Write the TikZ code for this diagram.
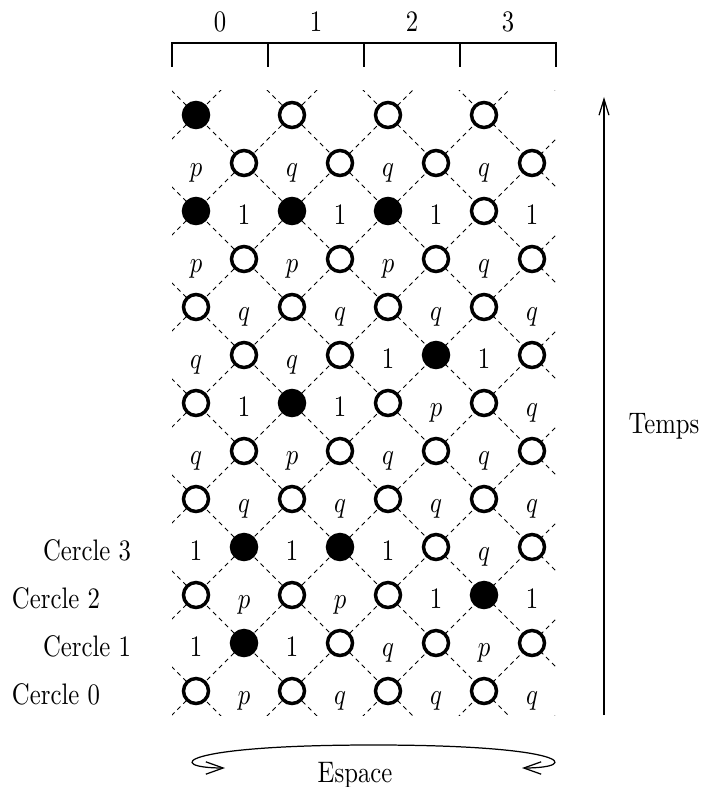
\documentclass[tikz,border=0pt]{standalone}
\usepackage{graphicx}
\usetikzlibrary{arrows.meta}
\newcommand{\tx}[1]{\scalebox{1}[1.2]{#1}}
\begin{document}
\begin{tikzpicture}[x=0.4042pt, y=-0.4042pt,
  opencirc/.style={circle, draw, fill=white, line width=1.4pt, minimum size=10.1pt, inner sep=0pt},
  fullcirc/.style={opencirc, fill=black},
  lab/.style={inner sep=0pt, anchor=base, yshift=-5.46pt},
  txt/.style={inner sep=0pt, anchor=base},
  lattice/.style={line width=0.4pt, dash pattern=on 1.8pt off 1.6pt},
  axis/.style={line width=0.5pt},
  tk O/.style={opencirc, node contents={}},
  tk F/.style={fullcirc, node contents={}},
  tk p/.style={lab, node contents={\tx{$p$}}},
  tk q/.style={lab, node contents={\tx{$q$}}},
  tk 1/.style={lab, node contents={\tx{1}}},
  tk -/.style={inner sep=0pt, node contents={}},
]
\useasboundingbox (0,0) rectangle (703,787);

% top bracket
\draw[axis] (172,67) -- (172,43) -- (556,43) -- (556,67);
\foreach \xx in {268,364,460} \draw[axis] (\xx,43) -- (\xx,67);
\foreach \k in {0,1,2,3} \node[txt] (h\k) at ({220+96*\k},32) {\tx{\k}};

% lattice of dashed lines
\begin{scope}
  \clip (172,91) rectangle (556,715);
  \foreach \c in {-495,-399,...,465}
    \draw[lattice] (100,{100-(\c)}) -- (650,{650-(\c)});
  \foreach \c in {311,407,...,1271}
    \draw[lattice] (100,{\c-100}) -- (650,{\c-650});
\end{scope}

% cells
\foreach \rowlist [count=\j from 0] in {
  {O,p,O,q,O,q,O,q},
  {1,F,1,O,q,O,p,O},
  {O,p,O,p,O,1,F,1},
  {1,F,1,F,1,O,q,O},
  {O,q,O,q,O,q,O,q},
  {q,O,p,O,q,O,q,O},
  {O,1,F,1,O,p,O,q},
  {q,O,q,O,1,F,1,O},
  {O,q,O,q,O,q,O,q},
  {p,O,p,O,p,O,q,O},
  {F,1,F,1,F,1,O,1},
  {p,O,q,O,q,O,q,O},
  {F,-,O,-,O,-,O,-}}{
  \foreach \t [count=\i from 0] in \rowlist {
    \node (n-\i-\j) at ({196+48*\i},{691-48*\j}) [tk \t];
  }
}

% circle labels
\node[txt] (c0) at (56,704) {\tx{Cercle 0}};
\node[txt] (c1) at (87,656) {\tx{Cercle 1}};
\node[txt] (c2) at (56,608) {\tx{Cercle 2}};
\node[txt] (c3) at (87,560) {\tx{Cercle 3}};

% time axis
\coordinate (tB) at (604,715);
\coordinate (tT) at (604,97);
\draw[line width=0.5pt, -{Straight Barb[length=6.5pt,width=4pt]}] (tB) -- (tT);
\node[txt] (temps) at (664,433) {\tx{Temps}};

% space arrow
\coordinate (eL) at (225,768);
\coordinate (eR) at (522,768);
\draw[line width=0.5pt, {Straight Barb[length=7pt,width=5pt]}-{Straight Barb[length=7pt,width=5pt]}]
  (eL) .. controls (165,768) and (175,745) .. (373.5,745)
       .. controls (572,745) and (582,768) .. (eR);
\node[txt] (espace) at (355,782) {\tx{Espace}};
\end{tikzpicture}
\end{document}
